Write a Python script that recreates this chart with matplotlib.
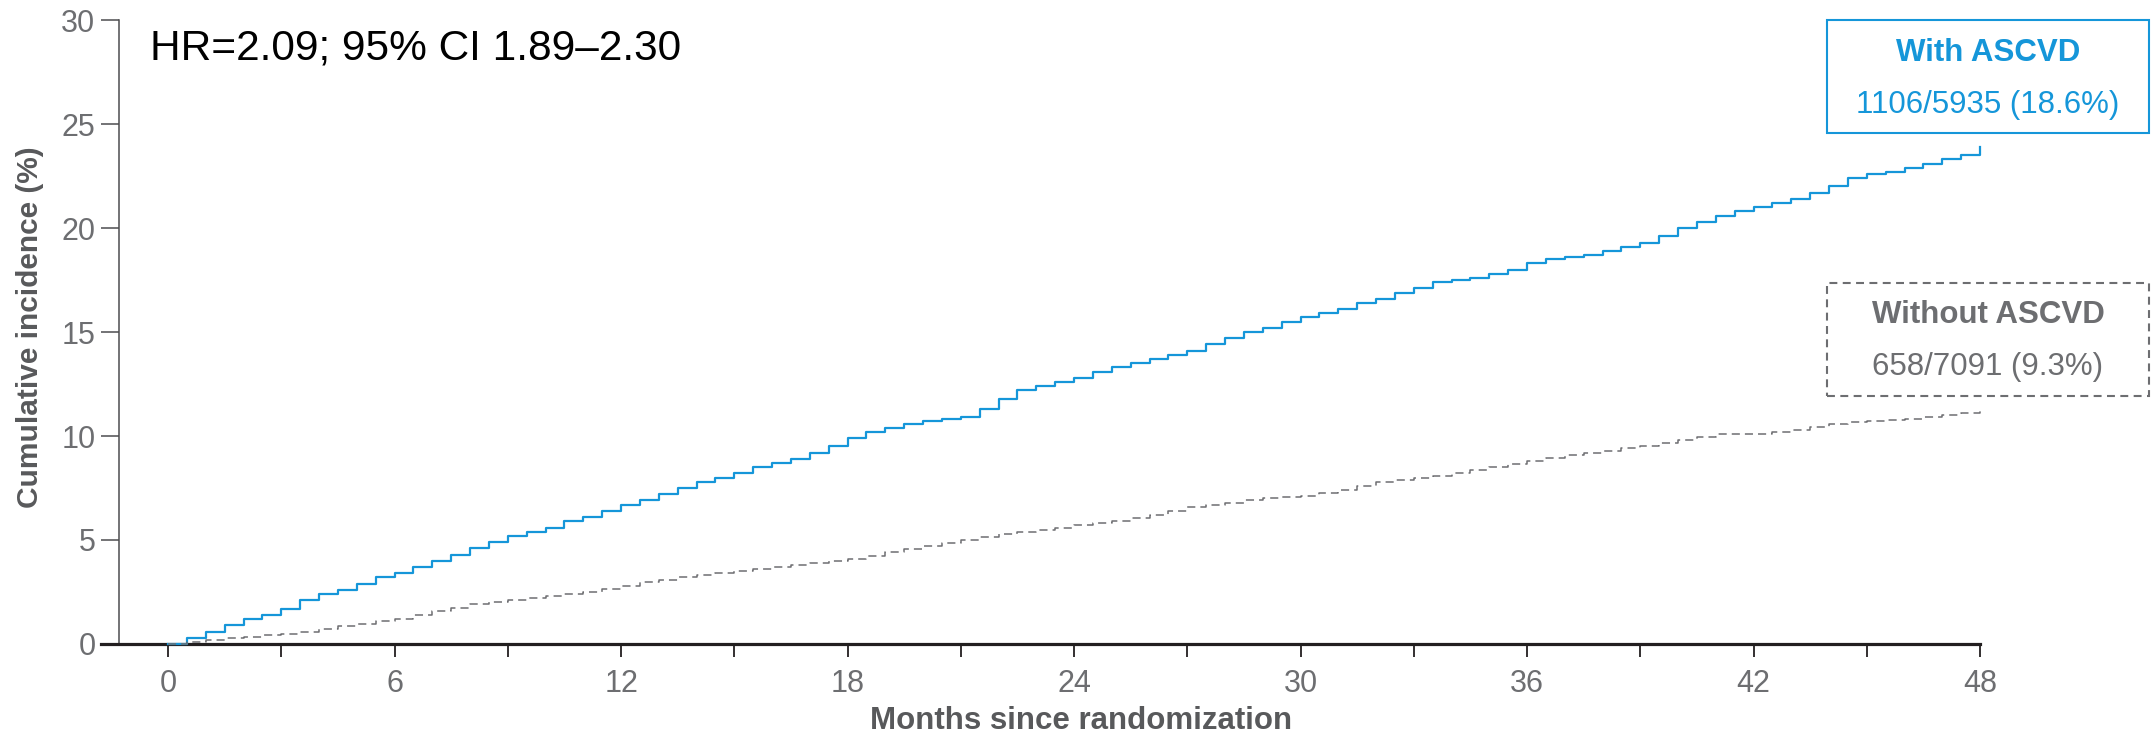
import matplotlib
matplotlib.use("Agg")
import matplotlib.pyplot as plt
import numpy as np
from matplotlib.patches import Rectangle

plt.rcParams['font.family'] = ['Liberation Sans', 'DejaVu Sans']

# --- data (cumulative incidence, %), every half month ---
months = np.arange(0, 48.5, 0.5)
with_ascvd = [0.0, 0.3, 0.6, 0.9, 1.2, 1.4, 1.7, 2.1, 2.4, 2.6,
              2.9, 3.2, 3.4, 3.7, 4.0, 4.3, 4.6, 4.9, 5.2, 5.4,
              5.6, 5.9, 6.1, 6.4, 6.7, 6.9, 7.2, 7.5, 7.8, 8.0,
              8.2, 8.5, 8.7, 8.9, 9.2, 9.5, 9.9, 10.2, 10.4, 10.6,
              10.7, 10.8, 10.9, 11.3, 11.8, 12.2, 12.4, 12.6, 12.8, 13.1,
              13.3, 13.5, 13.7, 13.9, 14.1, 14.4, 14.7, 15.0, 15.2, 15.5,
              15.7, 15.9, 16.1, 16.4, 16.6, 16.9, 17.1, 17.4, 17.5, 17.6,
              17.8, 18.0, 18.3, 18.5, 18.6, 18.7, 18.9, 19.1, 19.3, 19.6,
              20.0, 20.3, 20.6, 20.8, 21.0, 21.2, 21.4, 21.7, 22.0, 22.4,
              22.6, 22.7, 22.9, 23.1, 23.3, 23.5, 23.9]
without_ascvd = [0.0, 0.1, 0.2, 0.3, 0.35, 0.45, 0.5, 0.6, 0.7, 0.85,
                 0.95, 1.1, 1.2, 1.4, 1.6, 1.75, 1.9, 2.0, 2.1, 2.2,
                 2.3, 2.4, 2.5, 2.65, 2.8, 3.0, 3.1, 3.2, 3.3, 3.4,
                 3.5, 3.6, 3.7, 3.8, 3.9, 4.0, 4.1, 4.25, 4.4, 4.55,
                 4.7, 4.85, 5.0, 5.15, 5.3, 5.4, 5.5, 5.6, 5.7, 5.8,
                 5.9, 6.05, 6.2, 6.4, 6.6, 6.7, 6.8, 6.9, 7.0, 7.05,
                 7.1, 7.25, 7.4, 7.6, 7.8, 7.9, 8.0, 8.1, 8.2, 8.35,
                 8.5, 8.65, 8.8, 8.95, 9.1, 9.2, 9.3, 9.4, 9.5, 9.65,
                 9.8, 9.95, 10.1, 10.1, 10.1, 10.2, 10.3, 10.45, 10.6, 10.65,
                 10.7, 10.75, 10.8, 10.9, 11.0, 11.1, 11.2]

x_ticks = list(range(0, 49, 3))
x_labels = [str(m) if m % 6 == 0 else "" for m in x_ticks]
y_ticks = [0, 5, 10, 15, 20, 25, 30]

hr_text = "HR=2.09; 95% CI 1.89\u20132.30"
groups = ["With ASCVD", "Without ASCVD"]
counts = ["1106/5935 (18.6%)", "658/7091 (9.3%)"]

BLUE = "#1596d9"
GRAY = "#6d6e71"
DARK = "#58595b"

fig = plt.figure(figsize=(21.56, 7.37), dpi=100)
ax = fig.add_axes([0.0468, 0.1262, 0.8716, 0.8466])

ax.plot(months, with_ascvd, drawstyle="steps-post", color=BLUE, lw=1.6, clip_on=False, zorder=3)
ax.plot(months, without_ascvd, drawstyle="steps-post", color=GRAY, lw=1.1,
        linestyle=(0, (5.3, 3.3)), clip_on=False, zorder=3)

ax.set_xlim(-1.78, 48)
ax.set_ylim(0, 30)

# spines
for s in ["top", "right"]:
    ax.spines[s].set_visible(False)
ax.spines["left"].set_position(("data", -1.30))
ax.spines["left"].set_bounds(0, 30)
ax.spines["left"].set_color("#4d4d4f")
ax.spines["left"].set_linewidth(1.1)
ax.spines["bottom"].set_color("#231f20")
ax.spines["bottom"].set_linewidth(2.3)

ax.set_xticks(x_ticks)
ax.set_xticklabels(x_labels)
ax.set_yticks(y_ticks)
ax.tick_params(axis="x", length=9, width=1.3, color="#231f20", pad=9,
               labelsize=22, labelcolor=GRAY)
ax.tick_params(axis="y", length=13, width=1.1, color="#4d4d4f", pad=4,
               labelsize=22, labelcolor=GRAY)

ax.set_xlabel("Months since randomization", fontsize=22.5, fontweight="bold", color=DARK)
ax.xaxis.label.set_va("baseline")
ax.xaxis.set_label_coords(0.5216, -0.137)
ax.set_ylabel("Cumulative incidence (%)", fontsize=21.5, fontweight="bold", color=DARK)
ax.yaxis.label.set_va("center")
ax.yaxis.set_label_coords(-0.0378, 0.508)

fig.text(0.0696, 0.9186, hr_text, fontsize=30.5, color="black", va="baseline", ha="left")

# annotation boxes
box_x, box_w, box_h = 0.8474, 0.1494, 0.1533
box_y = [0.8195, 0.4627]
box_styles = [dict(edgecolor=BLUE, linestyle="-"), dict(edgecolor=GRAY, linestyle=(0, (3.8, 2.6)))]
title_y = [0.9172, 0.5617]
count_y = [0.8467, 0.4912]
box_colors = [BLUE, GRAY]
for i in range(2):
    fig.patches.append(Rectangle((box_x, box_y[i]), box_w, box_h, transform=fig.transFigure,
                                 fill=False, linewidth=1.5, **box_styles[i]))
    cx = box_x + box_w / 2
    fig.text(cx, title_y[i], groups[i], fontsize=22.5, fontweight="bold",
             color=box_colors[i], ha="center", va="baseline")
    fig.text(cx, count_y[i], counts[i], fontsize=22.5, color=box_colors[i],
             ha="center", va="baseline")

fig.savefig("out.png", dpi=100)
